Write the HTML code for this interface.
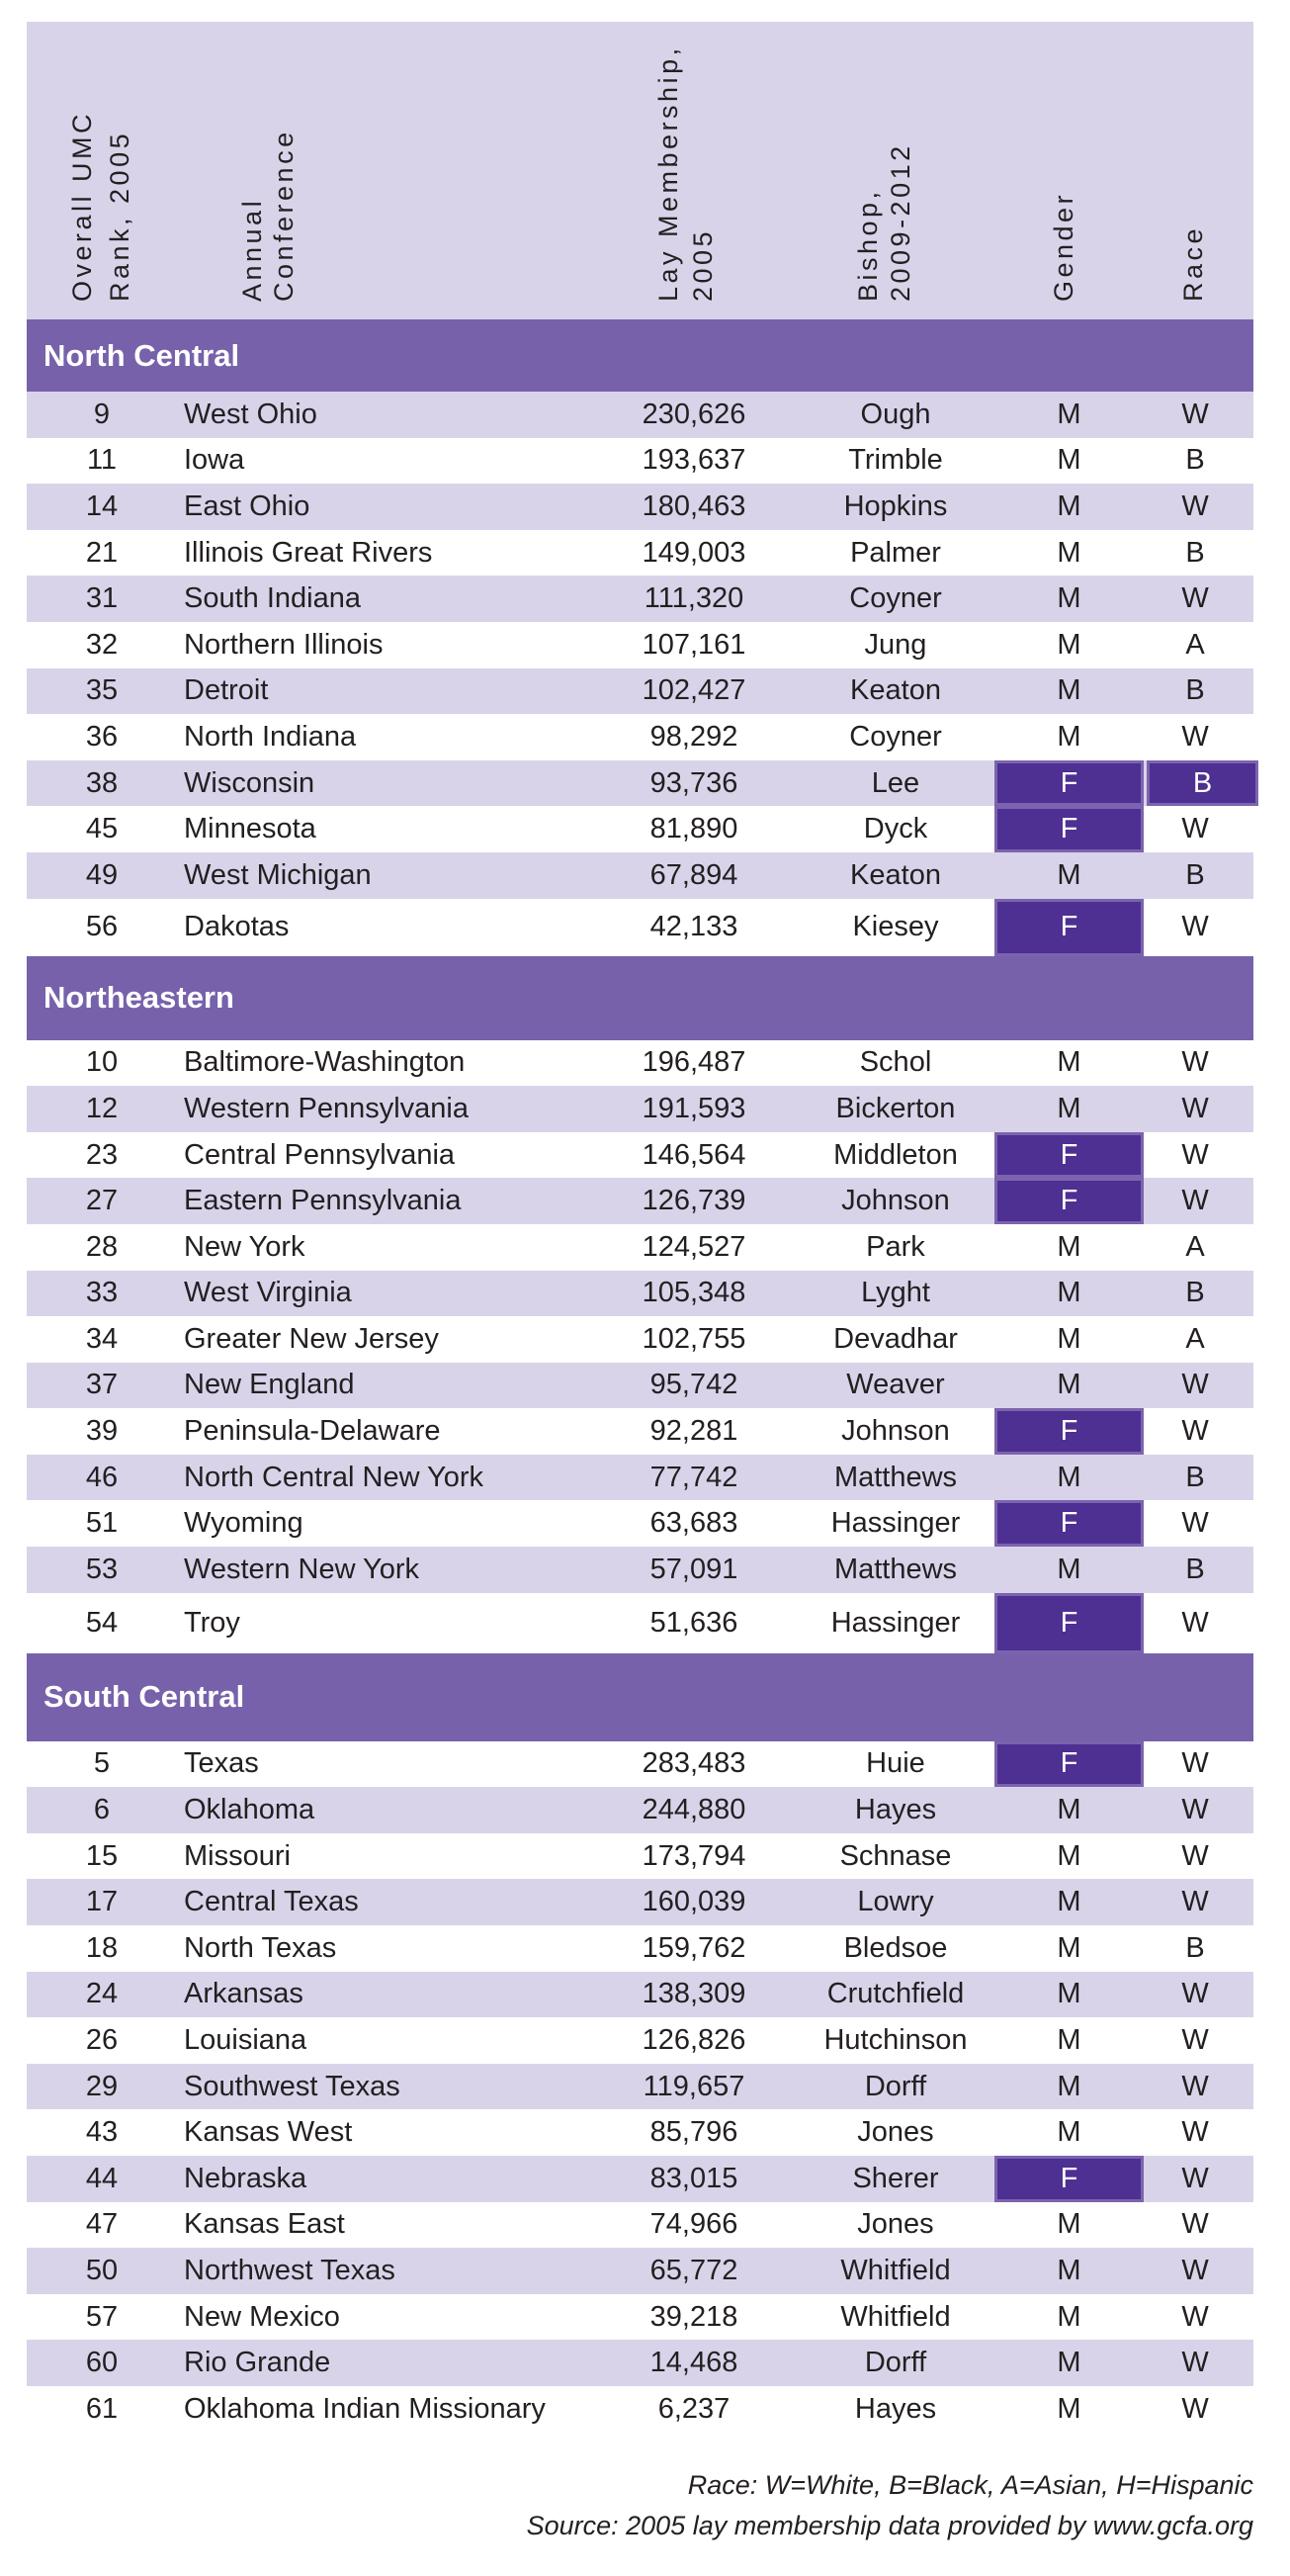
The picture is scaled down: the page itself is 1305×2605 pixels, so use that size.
<!DOCTYPE html>
<html><head><meta charset="utf-8"><style>
body{margin:0;background:#fff;width:1305px;height:2605px;position:relative;overflow:hidden;font-family:"Liberation Sans",sans-serif;color:#231f20}
#hd{position:absolute;left:27px;top:22px;width:1241px;height:301px;background:#d9d3ea}
.h{position:absolute;top:305px;transform-origin:0 0;transform:rotate(-90deg);white-space:nowrap;font-size:27px;line-height:30px;letter-spacing:3.5px;color:#231f20}
#tb{position:absolute;left:27px;top:323px;width:1241px}
.band{background:#7761ab;color:#fff;font-weight:bold;font-size:31px;display:flex;align-items:center;padding-left:17px;box-sizing:border-box}
.r{position:relative;height:46.6px;font-size:29px}
.r.l{background:#d9d3ea}
.r span{position:absolute;top:0;height:100%;display:flex;align-items:center;justify-content:center;box-sizing:border-box}
.k{left:36px;width:80px}
.n{left:159px;justify-content:flex-start!important}
.m{left:615px;width:120px}
.b{left:799px;width:160px}
.g{left:979px;width:151px}
.c{left:1133px;width:110px;padding-right:12px}
.f{background:#4e2f92;border:3px solid #7b64ae;color:#fff}
.ft{position:absolute;right:37px;font-style:italic;font-size:27px;white-space:nowrap}
</style></head><body>
<div id="hd"></div>
<div class="h" style="left:68px">Overall UMC</div>
<div class="h" style="left:106px">Rank, 2005</div>
<div class="h" style="left:240px">Annual</div>
<div class="h" style="left:272px">Conference</div>
<div class="h" style="left:661px">Lay Membership,</div>
<div class="h" style="left:696px">2005</div>
<div class="h" style="left:863px">Bishop,</div>
<div class="h" style="left:896px">2009-2012</div>
<div class="h" style="left:1061px">Gender</div>
<div class="h" style="left:1192px">Race</div>
<div id="tb">
<div class="band" style="height:73px">North Central</div>
<div class="r l"><span class="k">9</span><span class="n">West Ohio</span><span class="m">230,626</span><span class="b">Ough</span><span class="g">M</span><span class="c">W</span></div>
<div class="r"><span class="k">11</span><span class="n">Iowa</span><span class="m">193,637</span><span class="b">Trimble</span><span class="g">M</span><span class="c">B</span></div>
<div class="r l"><span class="k">14</span><span class="n">East Ohio</span><span class="m">180,463</span><span class="b">Hopkins</span><span class="g">M</span><span class="c">W</span></div>
<div class="r"><span class="k">21</span><span class="n">Illinois Great Rivers</span><span class="m">149,003</span><span class="b">Palmer</span><span class="g">M</span><span class="c">B</span></div>
<div class="r l"><span class="k">31</span><span class="n">South Indiana</span><span class="m">111,320</span><span class="b">Coyner</span><span class="g">M</span><span class="c">W</span></div>
<div class="r"><span class="k">32</span><span class="n">Northern Illinois</span><span class="m">107,161</span><span class="b">Jung</span><span class="g">M</span><span class="c">A</span></div>
<div class="r l"><span class="k">35</span><span class="n">Detroit</span><span class="m">102,427</span><span class="b">Keaton</span><span class="g">M</span><span class="c">B</span></div>
<div class="r"><span class="k">36</span><span class="n">North Indiana</span><span class="m">98,292</span><span class="b">Coyner</span><span class="g">M</span><span class="c">W</span></div>
<div class="r l"><span class="k">38</span><span class="n">Wisconsin</span><span class="m">93,736</span><span class="b">Lee</span><span class="g f">F</span><span class="c f" style="width:113px;padding-right:0">B</span></div>
<div class="r"><span class="k">45</span><span class="n">Minnesota</span><span class="m">81,890</span><span class="b">Dyck</span><span class="g f">F</span><span class="c">W</span></div>
<div class="r l"><span class="k">49</span><span class="n">West Michigan</span><span class="m">67,894</span><span class="b">Keaton</span><span class="g">M</span><span class="c">B</span></div>
<div class="r" style="height:58px"><span class="k">56</span><span class="n">Dakotas</span><span class="m">42,133</span><span class="b">Kiesey</span><span class="g f">F</span><span class="c">W</span></div>
<div class="band" style="height:85px">Northeastern</div>
<div class="r"><span class="k">10</span><span class="n">Baltimore-Washington</span><span class="m">196,487</span><span class="b">Schol</span><span class="g">M</span><span class="c">W</span></div>
<div class="r l"><span class="k">12</span><span class="n">Western Pennsylvania</span><span class="m">191,593</span><span class="b">Bickerton</span><span class="g">M</span><span class="c">W</span></div>
<div class="r"><span class="k">23</span><span class="n">Central Pennsylvania</span><span class="m">146,564</span><span class="b">Middleton</span><span class="g f">F</span><span class="c">W</span></div>
<div class="r l"><span class="k">27</span><span class="n">Eastern Pennsylvania</span><span class="m">126,739</span><span class="b">Johnson</span><span class="g f">F</span><span class="c">W</span></div>
<div class="r"><span class="k">28</span><span class="n">New York</span><span class="m">124,527</span><span class="b">Park</span><span class="g">M</span><span class="c">A</span></div>
<div class="r l"><span class="k">33</span><span class="n">West Virginia</span><span class="m">105,348</span><span class="b">Lyght</span><span class="g">M</span><span class="c">B</span></div>
<div class="r"><span class="k">34</span><span class="n">Greater New Jersey</span><span class="m">102,755</span><span class="b">Devadhar</span><span class="g">M</span><span class="c">A</span></div>
<div class="r l"><span class="k">37</span><span class="n">New England</span><span class="m">95,742</span><span class="b">Weaver</span><span class="g">M</span><span class="c">W</span></div>
<div class="r"><span class="k">39</span><span class="n">Peninsula-Delaware</span><span class="m">92,281</span><span class="b">Johnson</span><span class="g f">F</span><span class="c">W</span></div>
<div class="r l"><span class="k">46</span><span class="n">North Central New York</span><span class="m">77,742</span><span class="b">Matthews</span><span class="g">M</span><span class="c">B</span></div>
<div class="r"><span class="k">51</span><span class="n">Wyoming</span><span class="m">63,683</span><span class="b">Hassinger</span><span class="g f">F</span><span class="c">W</span></div>
<div class="r l"><span class="k">53</span><span class="n">Western New York</span><span class="m">57,091</span><span class="b">Matthews</span><span class="g">M</span><span class="c">B</span></div>
<div class="r" style="height:61px"><span class="k">54</span><span class="n">Troy</span><span class="m">51,636</span><span class="b">Hassinger</span><span class="g f">F</span><span class="c">W</span></div>
<div class="band" style="height:89px">South Central</div>
<div class="r"><span class="k">5</span><span class="n">Texas</span><span class="m">283,483</span><span class="b">Huie</span><span class="g f">F</span><span class="c">W</span></div>
<div class="r l"><span class="k">6</span><span class="n">Oklahoma</span><span class="m">244,880</span><span class="b">Hayes</span><span class="g">M</span><span class="c">W</span></div>
<div class="r"><span class="k">15</span><span class="n">Missouri</span><span class="m">173,794</span><span class="b">Schnase</span><span class="g">M</span><span class="c">W</span></div>
<div class="r l"><span class="k">17</span><span class="n">Central Texas</span><span class="m">160,039</span><span class="b">Lowry</span><span class="g">M</span><span class="c">W</span></div>
<div class="r"><span class="k">18</span><span class="n">North Texas</span><span class="m">159,762</span><span class="b">Bledsoe</span><span class="g">M</span><span class="c">B</span></div>
<div class="r l"><span class="k">24</span><span class="n">Arkansas</span><span class="m">138,309</span><span class="b">Crutchfield</span><span class="g">M</span><span class="c">W</span></div>
<div class="r"><span class="k">26</span><span class="n">Louisiana</span><span class="m">126,826</span><span class="b">Hutchinson</span><span class="g">M</span><span class="c">W</span></div>
<div class="r l"><span class="k">29</span><span class="n">Southwest Texas</span><span class="m">119,657</span><span class="b">Dorff</span><span class="g">M</span><span class="c">W</span></div>
<div class="r"><span class="k">43</span><span class="n">Kansas West</span><span class="m">85,796</span><span class="b">Jones</span><span class="g">M</span><span class="c">W</span></div>
<div class="r l"><span class="k">44</span><span class="n">Nebraska</span><span class="m">83,015</span><span class="b">Sherer</span><span class="g f">F</span><span class="c">W</span></div>
<div class="r"><span class="k">47</span><span class="n">Kansas East</span><span class="m">74,966</span><span class="b">Jones</span><span class="g">M</span><span class="c">W</span></div>
<div class="r l"><span class="k">50</span><span class="n">Northwest Texas</span><span class="m">65,772</span><span class="b">Whitfield</span><span class="g">M</span><span class="c">W</span></div>
<div class="r"><span class="k">57</span><span class="n">New Mexico</span><span class="m">39,218</span><span class="b">Whitfield</span><span class="g">M</span><span class="c">W</span></div>
<div class="r l"><span class="k">60</span><span class="n">Rio Grande</span><span class="m">14,468</span><span class="b">Dorff</span><span class="g">M</span><span class="c">W</span></div>
<div class="r"><span class="k">61</span><span class="n">Oklahoma Indian Missionary</span><span class="m">6,237</span><span class="b">Hayes</span><span class="g">M</span><span class="c">W</span></div>
</div>
<div class="ft" style="top:2498px">Race: W=White, B=Black, A=Asian, H=Hispanic</div>
<div class="ft" style="top:2539px">Source: 2005 lay membership data provided by www.gcfa.org</div>
</body></html>
